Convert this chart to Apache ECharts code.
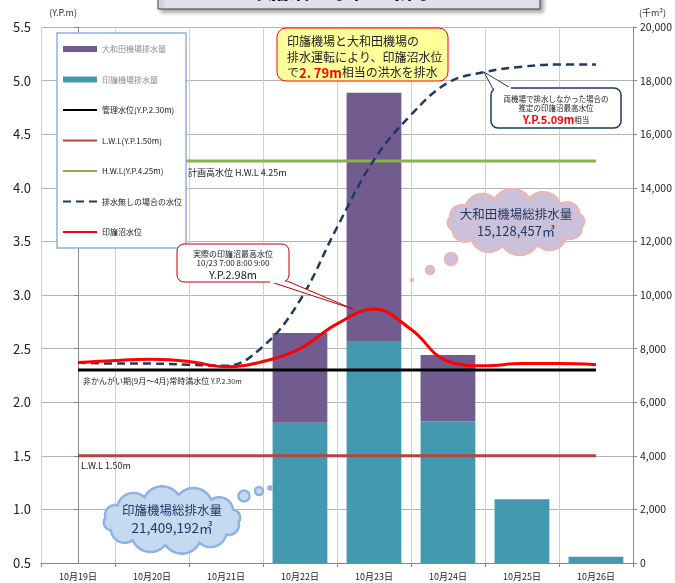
<!DOCTYPE html>
<html>
<head>
<meta charset="utf-8">
<script src="https://cdn.jsdelivr.net/npm/echarts@6/dist/echarts.min.js"></script>
<style>
html,body{margin:0;padding:0;background:#fff;}
#c{width:675px;height:583px;}
</style>
</head>
<body>
<div id="c"></div>
<script>
// ---- data ----
const categories = ['10月19日','10月20日','10月21日','10月22日','10月23日','10月24日','10月25日','10月26日'];
const inbaPump  = [0, 0, 0, 5230, 8260, 5290, 2380, 230];   // 千m3
const owadaPump = [0, 0, 0, 3350, 9290, 2470, 0, 0];        // 千m3
const dayPos = [0,0.5,1,1.5,2,2.5,3,3.5,4,4.5,5,5.5,6,6.5,7];
const actualLevel = [2.37,2.39,2.40,2.38,2.33,2.38,2.50,2.73,2.87,2.68,2.38,2.34,2.36,2.36,2.35];
const noPumpLevel = [2.37,2.36,2.36,2.35,2.34,2.52,2.95,3.63,4.26,4.68,4.98,5.08,5.13,5.15,5.15];
const mgmtLevel = 2.30;
const lwlLevel = 1.50;
const hwlLevel = 4.25;
const levelAxis = {min:0.5, max:5.5, step:0.5};
const volumeAxis = {min:0, max:20000, step:2000};

const FONT = '"Noto Sans CJK JP", "Noto Sans", sans-serif';
const pair = (xs, ys) => xs.map((x,i)=>[x, ys[i]]);
const flat = v => [[0, v],[categories.length-1, v]];

// cloud outline as polygon points (outward bumps = minor circular arcs between points on an ellipse)
function cloudPoints(cx, cy, rx, ry, n, off){
  const pts = [];
  for(let i=0;i<n;i++){
    const t = off + 2*Math.PI*i/n;
    pts.push([cx + rx*Math.cos(t), cy + ry*Math.sin(t)]);
  }
  const out = [];
  for(let i=0;i<n;i++){
    const a = pts[i], b = pts[(i+1)%n];
    const c = Math.hypot(b[0]-a[0], b[1]-a[1]);
    const r = c*0.58;
    const ux = (b[0]-a[0])/c, uy = (b[1]-a[1])/c;
    const nx = -uy, ny = ux; // inward normal
    const h = Math.sqrt(r*r - c*c/4);
    const ox = (a[0]+b[0])/2 + nx*h, oy = (a[1]+b[1])/2 + ny*h;
    const ta = Math.atan2(a[1]-oy, a[0]-ox), tb = Math.atan2(b[1]-oy, b[0]-ox);
    let d = tb - ta;
    while(d > Math.PI) d -= 2*Math.PI;
    while(d <= -Math.PI) d += 2*Math.PI;
    const steps = 12;
    for(let k=0;k<steps;k++){
      const t = ta + d*k/steps;
      out.push([ox + r*Math.cos(t), oy + r*Math.sin(t)]);
    }
  }
  return out;
}

const chart = echarts.init(document.getElementById('c'), null, {renderer:'canvas'});

const purpleCloud = {fill:'#ccc1da', stroke:'#e6b9b8', lineWidth:2.5};
const blueCloud = {fill:'#c5d9f1', stroke:'#8db3e2', lineWidth:2.5};

const graphics = [
  {type:'rect', z:100, shape:{x:158,y:-30,width:382,height:39},
   style:{fill:'#e4dfec', stroke:'#404040', lineWidth:1, shadowBlur:4, shadowOffsetX:3, shadowOffsetY:3, shadowColor:'rgba(0,0,0,0.35)'}},
  {type:'text', z:101, x:352, y:-10, style:{text:'印旛沼の水位と排水量', font:'bold 21px '+FONT, fill:'#000', align:'center', verticalAlign:'middle'}},
  {type:'rect', z:100, shape:{x:277,y:28,width:171,height:53,r:9}, style:{fill:'#ffff99', stroke:'#ff0000', lineWidth:1}},
  {type:'text', z:101, x:287, y:34, style:{
    text:'印旛機場と大和田機場の\n排水運転により、印旛沼水位\nで{r|2. 79m}相当の洪水を排水',
    font:'12px '+FONT, fill:'#222', lineHeight:15.5,
    rich:{r:{fill:'#ff0000', font:'bold 13px '+FONT, lineHeight:15.5}}}},
  {type:'polygon', z:100, shape:{points:[[484,72],[493,89],[512,89]]}, style:{fill:'#fff', stroke:'#1f3864', lineWidth:1}},
  {type:'rect', z:100, shape:{x:491,y:88,width:130,height:40,r:7}, style:{fill:'#fff', stroke:'#1f3864', lineWidth:1.5}},
  {type:'polygon', z:101, shape:{points:[[494,87],[511,87],[511,90],[494,90]]}, style:{fill:'#fff'}},
  {type:'text', z:101, x:556, y:99, style:{text:'両機場で排水しなかった場合の', font:'7.5px '+FONT, fill:'#222', align:'center', verticalAlign:'middle'}},
  {type:'text', z:101, x:556, y:108, style:{text:'推定の印旛沼最高水位', font:'7.5px '+FONT, fill:'#222', align:'center', verticalAlign:'middle'}},
  {type:'text', z:101, x:556, y:120, style:{text:'{r|Y.P.5.09m}{s|相当}', align:'center', verticalAlign:'middle',
    rich:{r:{fill:'#ff0000', font:'bold 11px '+FONT}, s:{fill:'#222', font:'7.5px '+FONT}}}},
  {type:'polygon', z:100, shape:{points:[[268,281],[287,281],[353,309]]}, style:{fill:'#fff', stroke:'#c00000', lineWidth:1}},
  {type:'rect', z:100, shape:{x:177,y:244,width:112,height:38,r:7}, style:{fill:'#fff', stroke:'#c00000', lineWidth:1}},
  {type:'polygon', z:101, shape:{points:[[270,280],[285,280],[285,283],[270,283]]}, style:{fill:'#fff'}},
  {type:'text', z:101, x:233, y:254, style:{text:'実際の印旛沼最高水位', font:'8px '+FONT, fill:'#222', align:'center', verticalAlign:'middle'}},
  {type:'text', z:101, x:233, y:263, style:{text:'10/23 7:00 8:00 9:00', font:'8px '+FONT, fill:'#222', align:'center', verticalAlign:'middle'}},
  {type:'text', z:101, x:233, y:275, style:{text:'Y.P.2.98m', font:'11px '+FONT, fill:'#222', align:'center', verticalAlign:'middle'}},
  {type:'polygon', z:100, shape:{points:cloudPoints(516,222,67,24,12,0.2)}, style:purpleCloud},
  {type:'circle', z:100, shape:{cx:451,cy:259,r:6}, style:purpleCloud},
  {type:'circle', z:100, shape:{cx:430,cy:270,r:4}, style:purpleCloud},
  {type:'circle', z:100, shape:{cx:412,cy:280,r:2.2}, style:{fill:'#e6b9b8'}},
  {type:'text', z:101, x:516, y:214, style:{text:'大和田機場総排水量', font:'12.5px '+FONT, fill:'#1f3864', align:'center', verticalAlign:'middle'}},
  {type:'text', z:101, x:516, y:231, style:{text:'15,128,457㎥', font:'13px '+FONT, fill:'#1f3864', align:'center', verticalAlign:'middle'}},
  {type:'polygon', z:100, shape:{points:cloudPoints(172,520,67,25,12,0.1)}, style:blueCloud},
  {type:'circle', z:100, shape:{cx:244,cy:496,r:5.5}, style:blueCloud},
  {type:'circle', z:100, shape:{cx:259,cy:491,r:4}, style:blueCloud},
  {type:'circle', z:100, shape:{cx:270,cy:488,r:2.8}, style:{fill:'#8db3e2'}},
  {type:'text', z:101, x:172, y:510, style:{text:'印旛機場総排水量', font:'12.5px '+FONT, fill:'#1f3864', align:'center', verticalAlign:'middle'}},
  {type:'text', z:101, x:172, y:528, style:{text:'21,409,192㎥', font:'13.5px '+FONT, fill:'#1f3864', align:'center', verticalAlign:'middle'}},
  {type:'text', z:101, x:188, y:173, style:{text:'計画高水位 H.W.L 4.25m', font:'9px '+FONT, fill:'#222', verticalAlign:'middle'}},
  {type:'text', z:101, x:83, y:381, style:{text:'非かんがい期(9月～4月)常時満水位 {s|Y.P.2.30m}', font:'8px '+FONT, fill:'#222', verticalAlign:'middle',
    rich:{s:{font:'7px '+FONT, fill:'#222'}}}},
  {type:'text', z:101, x:81, y:466, style:{text:'L.W.L 1.50m', font:'9px '+FONT, fill:'#222', verticalAlign:'middle'}}
];

const hideSym = {opacity:0};
const option = {
  animation:false,
  backgroundColor:'#fff',
  textStyle:{fontFamily:FONT},
  grid:{left:41, right:38, top:27, bottom:20, containLabel:false},
  legend:{
    orient:'vertical', left:57, top:33,
    itemWidth:34, itemHeight:6, itemGap:22.5,
    padding:[12,4,12,5],
    backgroundColor:'#fff', borderColor:'#8db3e2', borderWidth:1.5,
    textStyle:{fontSize:8, color:'#222', fontFamily:FONT},
    data:[
      {name:'大和田機場排水量', icon:'rect', textStyle:{color:'#8c8c8c'}},
      {name:'印旛機場排水量', icon:'rect', textStyle:{color:'#8c8c8c'}},
      {name:'管理水位(Y.P.2.30m)', itemStyle:hideSym},
      {name:'L.W.L(Y.P.1.50m)', itemStyle:hideSym},
      {name:'H.W.L(Y.P.4.25m)', itemStyle:hideSym},
      {name:'排水無しの場合の水位', itemStyle:hideSym},
      {name:'印旛沼水位', itemStyle:hideSym}
    ]
  },
  xAxis:[
    {type:'category', data:categories, boundaryGap:true,
     axisLine:{show:true, lineStyle:{color:'#888'}},
     axisTick:{show:true, length:4, lineStyle:{color:'#888'}},
     axisLabel:{fontSize:9, color:'#222', margin:9},
     splitLine:{show:true, lineStyle:{color:'#d0d0d0', width:1}}},
    {type:'value', min:-0.5, max:categories.length-0.5, show:false}
  ],
  yAxis:[
    {type:'value', min:levelAxis.min, max:levelAxis.max, interval:levelAxis.step, position:'left',
     name:'(Y.P.m)', nameGap:10, nameTextStyle:{fontSize:9, color:'#333', align:'right', padding:[0,1,0,0]},
     axisLine:{show:true, lineStyle:{color:'#888'}},
     axisTick:{show:true, length:4, lineStyle:{color:'#888'}},
     axisLabel:{fontSize:13, color:'#222', margin:10, formatter:v=>v.toFixed(1)},
     splitLine:{show:true, lineStyle:{color:'#b4b4b4', width:1}}},
    {type:'value', min:volumeAxis.min, max:volumeAxis.max, interval:volumeAxis.step, position:'right',
     name:'(千m³)', nameGap:10, nameTextStyle:{fontSize:9, color:'#333', align:'left', padding:[0,0,0,6]},
     axisLine:{show:true, lineStyle:{color:'#888'}},
     axisTick:{show:true, length:4, lineStyle:{color:'#888'}},
     axisLabel:{fontSize:10.5, color:'#222', margin:7, formatter:v=>v.toLocaleString('en-US')},
     splitLine:{show:false}}
  ],
  series:[
    {name:'印旛機場排水量', type:'bar', stack:'q', xAxisIndex:0, yAxisIndex:1, data:inbaPump,
     barWidth:'74%', itemStyle:{color:'#4299b0'}, z:1},
    {name:'大和田機場排水量', type:'bar', stack:'q', xAxisIndex:0, yAxisIndex:1, data:owadaPump,
     barWidth:'74%', itemStyle:{color:'#725c8f'}, z:1},
    {name:'管理水位(Y.P.2.30m)', type:'line', xAxisIndex:1, yAxisIndex:0, data:flat(mgmtLevel), symbol:'none',
     itemStyle:{color:'#000'}, lineStyle:{color:'#000', width:3}, z:3},
    {name:'L.W.L(Y.P.1.50m)', type:'line', xAxisIndex:1, yAxisIndex:0, data:flat(lwlLevel), symbol:'none',
     itemStyle:{color:'#b5443f'}, lineStyle:{color:'#b5443f', width:3}, z:3},
    {name:'H.W.L(Y.P.4.25m)', type:'line', xAxisIndex:1, yAxisIndex:0, data:flat(hwlLevel), symbol:'none',
     itemStyle:{color:'#8db04f'}, lineStyle:{color:'#8db04f', width:3}, z:3},
    {name:'排水無しの場合の水位', type:'line', xAxisIndex:1, yAxisIndex:0, data:pair(dayPos, noPumpLevel), symbol:'none', smooth:0.4,
     itemStyle:{color:'#1f3864'}, lineStyle:{color:'#1f3864', width:2.5, type:[8,5]}, z:4},
    {name:'印旛沼水位', type:'line', xAxisIndex:1, yAxisIndex:0, data:pair(dayPos, actualLevel), symbol:'none', smooth:0.4,
     itemStyle:{color:'#ff0000'}, lineStyle:{color:'#ff0000', width:3}, z:5}
  ],
  graphic:graphics
};
chart.setOption(option);
</script>
</body>
</html>
